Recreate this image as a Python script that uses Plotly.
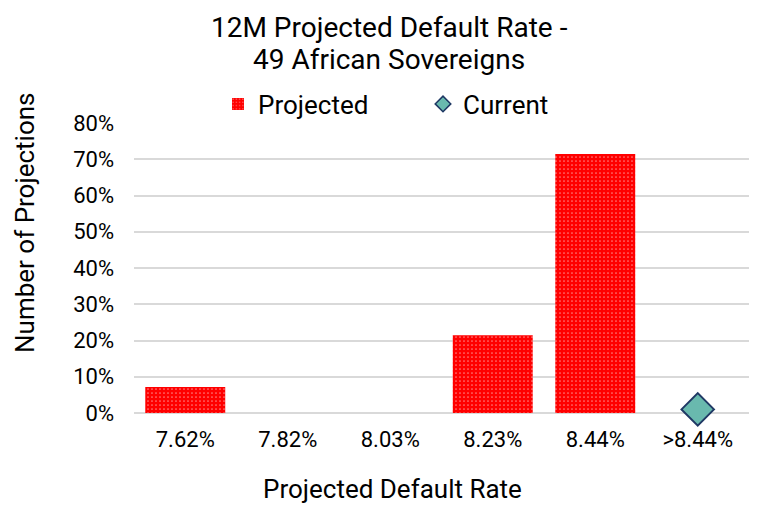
import plotly.graph_objects as go

categories = ["7.62%", "7.82%", "8.03%", "8.23%", "8.44%", ">8.44%"]
projected = [7.14, 0, 0, 21.43, 71.43, 0]
current_cat = [">8.44%"]
current_val = [1.0]
yticks = [0, 10, 20, 30, 40, 50, 60, 70, 80]
yticklabels = [f"{v}%" for v in yticks]
title_lines = ["12M Projected Default Rate -", "49 African Sovereigns"]

FONT = "Roboto"
W, H = 778, 519
ML, MR, MT, MB = 134, 29, 123, 106
PW, PH = W - ML - MR, H - MT - MB


def px_x(x):
    return (x - ML) / PW


def px_y(y):
    return (H - MB - y) / PH


fig = go.Figure()
fig.add_trace(go.Bar(
    x=categories, y=projected, name="Projected",
    marker=dict(color="#ff0000", line=dict(width=0),
                pattern=dict(shape=".", fgcolor="#ffffff", bgcolor="#ff0000",
                             size=4, solidity=0.15)),
))
fig.add_trace(go.Scatter(
    x=current_cat, y=current_val, mode="markers", name="Current", showlegend=False,
    cliponaxis=False,
    marker=dict(symbol="diamond", size=25, color="#69b9ae",
                line=dict(color="#1f3864", width=2)),
))
fig.add_trace(go.Scatter(
    x=[None], y=[None], mode="markers", name="Current",
    marker=dict(symbol="diamond", size=12, color="#69b9ae",
                line=dict(color="#1f3864", width=1.5)),
))

fig.update_layout(
    width=W, height=H,
    paper_bgcolor="white", plot_bgcolor="white",
    font=dict(family=FONT, color="#000000", size=22),
    margin=dict(l=ML, r=MR, t=MT, b=MB, autoexpand=False),
    bargap=0.22,
    showlegend=True,
    legend=dict(orientation="h", x=px_x(218), xanchor="left",
                y=px_y(104), yanchor="middle",
                font=dict(size=26), itemwidth=30,
                entrywidthmode="pixels", entrywidth=160,
                bgcolor="rgba(0,0,0,0)"),
    xaxis=dict(type="category", categoryorder="array", categoryarray=categories,
               showgrid=False, showline=False, ticks="", tickfont=dict(size=22),
               ticklabelstandoff=11, fixedrange=True),
    yaxis=dict(range=[0, 80], tickvals=yticks, ticktext=yticklabels,
               showgrid=True, gridcolor="#d9d9d9", gridwidth=1.5,
               zeroline=True, zerolinecolor="#d9d9d9", zerolinewidth=1.5,
               showline=False, ticks="", ticklabelstandoff=19,
               tickfont=dict(size=22), fixedrange=True),
    annotations=[
        dict(text=title_lines[0], x=px_x(389), xref="paper", xanchor="center",
             y=px_y(28), yref="paper", yanchor="middle", showarrow=False,
             font=dict(size=28)),
        dict(text=title_lines[1], x=px_x(389), xref="paper", xanchor="center",
             y=px_y(60), yref="paper", yanchor="middle", showarrow=False,
             font=dict(size=28)),
        dict(text="Number of Projections", x=px_x(25), xref="paper", xanchor="center",
             y=px_y(223), yref="paper", yanchor="middle", textangle=-90,
             showarrow=False, font=dict(size=26)),
        dict(text="Projected Default Rate", x=px_x(392), xref="paper", xanchor="center",
             y=px_y(489), yref="paper", yanchor="middle", showarrow=False,
             font=dict(size=26)),
    ],
)

fig.write_html("out.html", config={"displayModeBar": False},
               post_script="document.body.style.margin='0px';document.body.style.padding='0px';")
